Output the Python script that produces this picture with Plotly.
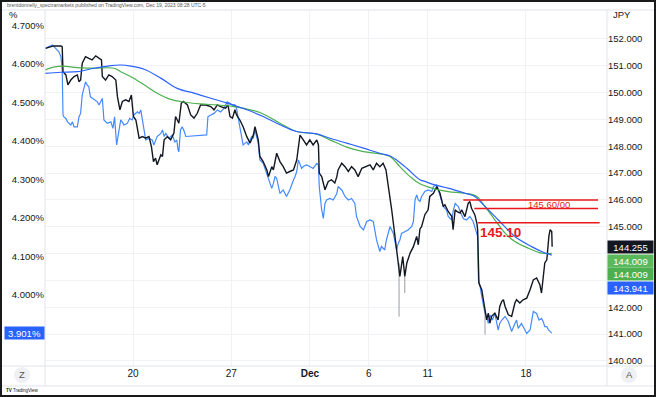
import plotly.graph_objects as go

# ---------------- DATA ----------------
usdjpy_time = [
    "2023-11-13 13:00", "2023-11-13 19:00", "2023-11-13 23:00", "2023-11-14 08:00", "2023-11-14 09:30",
    "2023-11-14 10:30", "2023-11-14 14:00", "2023-11-14 16:30", "2023-11-14 20:00", "2023-11-15 00:00",
    "2023-11-15 04:00", "2023-11-15 06:00", "2023-11-15 08:00", "2023-11-15 10:00", "2023-11-15 14:00",
    "2023-11-15 18:00", "2023-11-15 22:00", "2023-11-16 02:30", "2023-11-16 06:30", "2023-11-16 09:30",
    "2023-11-16 10:30", "2023-11-16 14:30", "2023-11-16 18:30", "2023-11-16 22:30", "2023-11-17 03:00",
    "2023-11-17 05:00", "2023-11-17 08:00", "2023-11-17 11:00", "2023-11-17 15:00", "2023-11-17 19:00",
    "2023-11-17 22:00", "2023-11-20 00:30", "2023-11-20 03:30", "2023-11-20 05:30", "2023-11-20 07:30",
    "2023-11-20 11:30", "2023-11-20 15:30", "2023-11-20 19:30", "2023-11-20 22:30", "2023-11-21 01:00",
    "2023-11-21 03:30", "2023-11-21 05:30", "2023-11-21 10:00", "2023-11-21 12:00", "2023-11-21 14:00",
    "2023-11-21 18:00", "2023-11-21 22:00", "2023-11-22 02:00", "2023-11-22 04:00", "2023-11-22 08:00",
    "2023-11-22 11:00", "2023-11-22 13:30", "2023-11-22 18:30", "2023-11-22 22:30", "2023-11-23 02:30",
    "2023-11-23 06:30", "2023-11-23 10:30", "2023-11-23 17:00", "2023-11-23 23:00", "2023-11-24 03:00",
    "2023-11-24 07:00", "2023-11-24 11:00", "2023-11-24 17:00", "2023-11-24 20:00", "2023-11-24 22:30",
    "2023-11-27 01:30", "2023-11-27 04:30", "2023-11-27 06:30", "2023-11-27 10:30", "2023-11-27 14:30",
    "2023-11-27 19:00", "2023-11-27 23:00", "2023-11-28 03:00", "2023-11-28 05:00", "2023-11-28 09:00",
    "2023-11-28 11:00", "2023-11-28 15:00", "2023-11-28 19:30", "2023-11-28 21:30", "2023-11-29 01:30",
    "2023-11-29 03:30", "2023-11-29 07:30", "2023-11-29 11:30", "2023-11-29 15:30", "2023-11-29 19:30",
    "2023-11-29 23:30", "2023-11-30 04:00", "2023-11-30 08:00", "2023-11-30 10:00", "2023-11-30 12:00",
    "2023-11-30 16:00", "2023-11-30 20:00", "2023-12-01 00:00", "2023-12-01 04:00", "2023-12-01 08:30",
    "2023-12-01 10:30", "2023-12-01 11:30", "2023-12-01 14:30", "2023-12-01 18:30", "2023-12-01 22:30",
    "2023-12-04 02:30", "2023-12-04 06:30", "2023-12-04 09:00", "2023-12-04 10:30", "2023-12-04 15:00",
    "2023-12-04 19:00", "2023-12-04 23:00", "2023-12-05 03:00", "2023-12-05 07:00", "2023-12-05 11:00",
    "2023-12-05 15:30", "2023-12-05 19:30", "2023-12-06 01:30", "2023-12-06 05:30", "2023-12-06 09:30",
    "2023-12-06 13:30", "2023-12-06 17:30", "2023-12-06 21:00", "2023-12-06 23:30", "2023-12-07 04:00",
    "2023-12-07 06:00", "2023-12-07 08:00", "2023-12-07 10:00", "2023-12-07 12:00", "2023-12-07 14:00",
    "2023-12-07 17:30", "2023-12-07 20:00", "2023-12-07 22:30", "2023-12-08 02:30", "2023-12-08 06:30",
    "2023-12-08 10:30", "2023-12-08 12:30", "2023-12-08 14:30", "2023-12-08 16:30", "2023-12-08 20:30",
    "2023-12-11 00:30", "2023-12-11 02:30", "2023-12-11 07:00", "2023-12-11 09:00", "2023-12-11 11:00",
    "2023-12-11 13:00", "2023-12-11 15:00", "2023-12-11 19:00", "2023-12-11 21:00", "2023-12-12 01:00",
    "2023-12-12 05:30", "2023-12-12 07:00", "2023-12-12 09:30", "2023-12-12 11:30", "2023-12-12 15:30",
    "2023-12-12 17:30", "2023-12-12 21:30", "2023-12-13 01:30", "2023-12-13 03:30", "2023-12-13 05:30",
    "2023-12-13 09:30", "2023-12-13 12:00", "2023-12-13 13:00", "2023-12-13 14:30", "2023-12-13 18:00",
    "2023-12-13 20:00", "2023-12-13 22:00", "2023-12-14 00:00", "2023-12-14 02:00", "2023-12-14 04:00",
    "2023-12-14 06:00", "2023-12-14 10:00", "2023-12-14 14:00", "2023-12-14 16:00", "2023-12-14 18:30",
    "2023-12-14 20:30", "2023-12-14 22:30", "2023-12-15 02:30", "2023-12-15 06:30", "2023-12-15 10:30",
    "2023-12-15 12:30", "2023-12-15 16:30", "2023-12-15 20:30", "2023-12-18 01:00", "2023-12-18 05:00",
    "2023-12-18 09:00", "2023-12-18 13:00", "2023-12-18 17:00", "2023-12-18 19:00", "2023-12-18 21:00",
    "2023-12-18 23:00", "2023-12-19 01:30", "2023-12-19 02:30", "2023-12-19 04:00", "2023-12-19 05:30",
    "2023-12-19 07:30", "2023-12-19 08:00",
]
usdjpy = [
    151.65, 151.71, 151.74, 151.74, 151.71,
    150.78, 150.66, 150.29, 150.47, 150.60,
    150.66, 150.41, 150.47, 151.10, 151.34,
    151.28, 151.22, 151.37, 151.28, 151.22,
    150.60, 150.47, 150.66, 150.60, 150.47,
    149.85, 149.36, 149.67, 149.73, 149.67,
    149.91, 149.11, 148.98, 148.61, 148.30,
    148.36, 148.30, 148.36, 147.99, 147.43,
    147.56, 147.31, 147.68, 147.62, 148.24,
    148.36, 148.24, 148.49, 149.11, 148.86,
    149.61, 149.67, 149.54, 149.17, 149.05,
    149.23, 149.54, 149.54, 149.48, 149.36,
    149.54, 149.48, 149.42, 149.54, 149.11,
    149.05, 149.36, 149.17, 148.98, 148.73,
    148.36, 148.12, 148.42, 148.73, 148.24,
    147.62, 147.43, 147.12, 146.87, 147.24,
    147.12, 147.74, 147.43, 147.24, 147.00,
    147.06, 147.12, 147.49, 147.87, 148.42,
    148.24, 148.05, 148.24, 148.05, 148.24,
    148.05, 147.00, 146.87, 146.38, 146.69,
    146.75, 146.63, 146.87, 147.12, 147.37,
    147.24, 147.06, 147.24, 147.12, 146.87,
    147.18, 147.24, 147.31, 147.12, 147.37,
    147.24, 147.37, 147.12, 146.63, 145.63,
    145.14, 144.64, 144.14, 143.65, 143.15,
    143.89, 143.15, 143.65, 144.02, 144.26,
    144.64, 144.33, 144.92, 145.00, 145.45,
    145.63, 146.13, 146.25, 146.38, 146.50,
    146.38, 146.25, 145.75, 145.82, 145.57,
    145.38, 144.89, 145.63, 145.57, 145.51,
    145.63, 145.38, 145.88, 145.94, 145.69,
    145.45, 145.14, 144.89, 142.90, 142.65,
    142.28, 141.91, 141.53, 141.78, 141.41,
    141.66, 141.78, 141.53, 142.03, 142.22,
    142.28, 142.03, 141.72, 141.66, 142.16,
    142.28, 142.16, 142.28, 142.34, 142.65,
    143.02, 143.09, 142.84, 142.53, 143.15,
    143.65, 143.77, 144.14, 144.64, 144.89,
    144.82, 144.255,
]

# long lower wicks of the price bars
wick_time = ["2023-12-07 13:00", "2023-12-07 20:00", "2023-12-13 22:00"]
wick_high = [143.65, 143.15, 141.91]
wick_low = [141.65, 142.53, 140.98]

us10y_time = [
    "2023-11-13 13:00", "2023-11-13 17:30", "2023-11-13 21:30", "2023-11-14 01:30", "2023-11-14 05:30",
    "2023-11-14 08:00", "2023-11-14 09:30", "2023-11-14 10:30", "2023-11-14 11:30", "2023-11-14 14:00",
    "2023-11-14 16:00", "2023-11-14 20:00", "2023-11-14 22:00", "2023-11-15 00:00", "2023-11-15 04:00",
    "2023-11-15 06:00", "2023-11-15 08:00", "2023-11-15 10:00", "2023-11-15 12:00", "2023-11-15 14:00",
    "2023-11-15 16:00", "2023-11-15 18:00", "2023-11-15 20:00", "2023-11-16 00:30", "2023-11-16 04:30",
    "2023-11-16 06:30", "2023-11-16 10:30", "2023-11-16 12:30", "2023-11-16 16:30", "2023-11-16 21:00",
    "2023-11-16 23:30", "2023-11-17 01:30", "2023-11-17 04:00", "2023-11-17 07:00", "2023-11-17 09:00",
    "2023-11-17 13:00", "2023-11-17 17:00", "2023-11-17 20:00", "2023-11-17 23:00", "2023-11-20 01:00",
    "2023-11-20 05:30", "2023-11-20 07:30", "2023-11-20 09:30", "2023-11-20 11:30", "2023-11-20 15:30",
    "2023-11-20 19:30", "2023-11-20 23:30", "2023-11-21 01:30", "2023-11-21 05:30", "2023-11-21 10:00",
    "2023-11-21 12:00", "2023-11-21 14:00", "2023-11-21 16:00", "2023-11-21 20:00", "2023-11-22 00:00",
    "2023-11-22 03:00", "2023-11-22 05:30", "2023-11-22 07:00", "2023-11-22 08:00", "2023-11-22 10:00",
    "2023-11-22 12:00", "2023-11-22 14:00", "2023-11-22 16:30", "2023-11-23 18:00", "2023-11-23 19:30",
    "2023-11-23 23:00", "2023-11-24 03:00", "2023-11-24 07:00", "2023-11-24 11:00", "2023-11-24 15:00",
    "2023-11-24 19:00", "2023-11-24 23:00", "2023-11-27 01:00", "2023-11-27 04:30", "2023-11-27 06:30",
    "2023-11-27 10:30", "2023-11-27 14:30", "2023-11-27 19:00", "2023-11-27 21:00", "2023-11-27 23:00",
    "2023-11-28 01:00", "2023-11-28 03:00", "2023-11-28 05:00", "2023-11-28 09:00", "2023-11-28 11:00",
    "2023-11-28 15:00", "2023-11-28 19:30", "2023-11-28 21:30", "2023-11-29 01:30", "2023-11-29 03:30",
    "2023-11-29 05:30", "2023-11-29 07:30", "2023-11-29 09:30", "2023-11-29 11:30", "2023-11-29 15:30",
    "2023-11-29 19:30", "2023-11-29 23:30", "2023-11-30 02:00", "2023-11-30 04:00", "2023-11-30 06:00",
    "2023-11-30 08:00", "2023-11-30 10:00", "2023-11-30 12:00", "2023-11-30 14:00", "2023-11-30 16:00",
    "2023-11-30 20:00", "2023-12-01 00:00", "2023-12-01 04:00", "2023-12-01 08:30", "2023-12-01 10:30",
    "2023-12-01 11:30", "2023-12-01 14:30", "2023-12-01 16:30", "2023-12-01 18:30", "2023-12-01 20:30",
    "2023-12-04 00:30", "2023-12-04 04:30", "2023-12-04 09:00", "2023-12-04 10:30", "2023-12-04 15:00",
    "2023-12-04 19:00", "2023-12-04 23:00", "2023-12-05 03:00", "2023-12-05 07:00", "2023-12-05 09:00",
    "2023-12-05 13:30", "2023-12-05 17:30", "2023-12-05 21:30", "2023-12-06 01:30", "2023-12-06 05:30",
    "2023-12-06 09:30", "2023-12-06 13:30", "2023-12-06 15:30", "2023-12-06 19:30", "2023-12-06 21:30",
    "2023-12-07 02:00", "2023-12-07 06:00", "2023-12-07 08:00", "2023-12-07 10:00", "2023-12-07 12:00",
    "2023-12-07 14:00", "2023-12-07 16:00", "2023-12-07 20:00", "2023-12-08 00:00", "2023-12-08 04:30",
    "2023-12-08 06:30", "2023-12-08 08:30", "2023-12-08 10:30", "2023-12-08 12:30", "2023-12-08 14:30",
    "2023-12-08 16:30", "2023-12-08 20:30", "2023-12-11 00:30", "2023-12-11 05:00", "2023-12-11 07:00",
    "2023-12-11 11:00", "2023-12-11 13:00", "2023-12-11 15:00", "2023-12-11 19:00", "2023-12-11 23:00",
    "2023-12-12 01:00", "2023-12-12 05:30", "2023-12-12 07:00", "2023-12-12 09:30", "2023-12-12 13:30",
    "2023-12-12 15:30", "2023-12-12 19:30", "2023-12-12 23:30", "2023-12-13 03:30", "2023-12-13 07:30",
    "2023-12-13 12:00", "2023-12-13 13:00", "2023-12-13 14:00", "2023-12-13 16:00", "2023-12-13 18:00",
    "2023-12-13 20:00", "2023-12-13 22:00", "2023-12-14 00:00", "2023-12-14 02:00", "2023-12-14 04:00",
    "2023-12-14 07:00", "2023-12-14 10:00", "2023-12-14 12:00", "2023-12-14 14:00", "2023-12-14 16:00",
    "2023-12-14 18:30", "2023-12-14 22:30", "2023-12-15 02:30", "2023-12-15 04:30", "2023-12-15 06:30",
    "2023-12-15 10:30", "2023-12-15 12:30", "2023-12-15 14:30", "2023-12-15 18:30", "2023-12-15 20:30",
    "2023-12-18 01:00", "2023-12-18 05:00", "2023-12-18 07:00", "2023-12-18 09:00", "2023-12-18 13:00",
    "2023-12-18 16:00", "2023-12-18 19:00", "2023-12-18 21:00", "2023-12-18 23:00", "2023-12-19 01:30",
    "2023-12-19 03:30", "2023-12-19 05:30", "2023-12-19 07:30",
]
us10y = [
    4.641, 4.645, 4.650, 4.641, 4.632,
    4.619, 4.585, 4.468, 4.463, 4.459,
    4.450, 4.442, 4.450, 4.437, 4.437,
    4.463, 4.472, 4.520, 4.541, 4.554,
    4.546, 4.541, 4.515, 4.507, 4.502,
    4.494, 4.511, 4.455, 4.446, 4.450,
    4.433, 4.463, 4.390, 4.429, 4.455,
    4.442, 4.446, 4.459, 4.455, 4.468,
    4.476, 4.472, 4.481, 4.455, 4.403,
    4.407, 4.403, 4.390, 4.412, 4.420,
    4.429, 4.412, 4.420, 4.407, 4.416,
    4.398, 4.403, 4.377, 4.372, 4.429,
    4.437, 4.429, 4.412, 4.416, 4.463,
    4.468, 4.472, 4.481, 4.476, 4.485,
    4.502, 4.498, 4.494, 4.494, 4.485,
    4.437, 4.390, 4.398, 4.390, 4.403,
    4.412, 4.407, 4.429, 4.394, 4.351,
    4.342, 4.316, 4.299, 4.277, 4.290,
    4.308, 4.303, 4.282, 4.264, 4.273,
    4.256, 4.273, 4.290, 4.299, 4.308,
    4.321, 4.351, 4.342, 4.329, 4.334,
    4.338, 4.334, 4.329, 4.342, 4.338,
    4.282, 4.221, 4.199, 4.238, 4.247,
    4.251, 4.247, 4.264, 4.282, 4.273,
    4.256, 4.247, 4.251, 4.238, 4.204,
    4.178, 4.169, 4.191, 4.195, 4.191,
    4.143, 4.113, 4.126, 4.117, 4.143,
    4.178, 4.160, 4.139, 4.117, 4.134,
    4.143, 4.160, 4.165, 4.169, 4.178,
    4.191, 4.247, 4.260, 4.247, 4.243,
    4.256, 4.269, 4.273, 4.269, 4.282,
    4.286, 4.273, 4.256, 4.230, 4.221,
    4.204, 4.195, 4.217, 4.238, 4.230,
    4.217, 4.199, 4.195, 4.204, 4.191,
    4.160, 4.152, 4.039, 4.022, 3.996,
    3.978, 3.952, 3.944, 3.926, 3.948,
    3.935, 3.952, 3.926, 3.909, 3.926,
    3.935, 3.944, 3.931, 3.918, 3.905,
    3.926, 3.935, 3.913, 3.926, 3.918,
    3.900, 3.909, 3.931, 3.957, 3.952,
    3.935, 3.939, 3.931, 3.918, 3.918,
    3.909, 3.905, 3.901,
]

ma_blue_time = [
    "2023-11-13 12:30", "2023-11-14 08:00", "2023-11-15 04:00", "2023-11-16 00:30", "2023-11-16 21:00",
    "2023-11-17 09:00", "2023-11-17 21:00", "2023-11-20 13:30", "2023-11-21 10:00", "2023-11-22 06:00",
    "2023-11-23 02:30", "2023-11-23 23:00", "2023-11-24 19:00", "2023-11-27 19:00", "2023-11-28 15:00",
    "2023-11-29 11:30", "2023-11-30 08:00", "2023-12-01 08:30", "2023-12-04 00:30", "2023-12-04 21:00",
    "2023-12-05 17:30", "2023-12-06 13:30", "2023-12-07 02:00", "2023-12-07 10:00", "2023-12-07 22:30",
    "2023-12-08 14:30", "2023-12-08 20:30", "2023-12-11 09:00", "2023-12-12 01:00", "2023-12-12 21:30",
    "2023-12-13 09:30", "2023-12-13 18:00", "2023-12-14 14:00", "2023-12-15 10:30", "2023-12-18 07:00",
    "2023-12-18 19:00", "2023-12-19 07:30",
]
ma_blue = [
    150.72, 150.76, 150.78, 150.91, 151.01,
    151.03, 150.99, 150.87, 150.54, 150.16,
    149.98, 149.79, 149.61, 149.36, 149.11,
    148.80, 148.55, 148.46, 148.30, 148.12,
    147.93, 147.74, 147.64, 147.49, 147.18,
    146.75, 146.69, 146.56, 146.44, 146.25,
    146.13, 145.88, 145.26, 144.64, 144.26,
    144.08, 143.941,
]

ma_green_time = [
    "2023-11-13 12:30", "2023-11-13 23:00", "2023-11-14 09:30", "2023-11-15 04:00", "2023-11-16 00:30",
    "2023-11-17 01:00", "2023-11-17 09:00", "2023-11-17 21:00", "2023-11-20 13:30", "2023-11-21 05:30",
    "2023-11-21 22:00", "2023-11-22 14:00", "2023-11-23 10:30", "2023-11-24 07:00", "2023-11-27 03:30",
    "2023-11-27 14:30", "2023-11-28 11:00", "2023-11-29 11:30", "2023-11-30 08:00", "2023-12-01 08:30",
    "2023-12-04 00:30", "2023-12-04 21:00", "2023-12-05 17:30", "2023-12-06 13:30", "2023-12-07 02:00",
    "2023-12-07 14:00", "2023-12-08 02:30", "2023-12-08 14:30", "2023-12-11 05:00", "2023-12-12 01:00",
    "2023-12-12 21:30", "2023-12-13 12:00", "2023-12-13 22:00", "2023-12-14 10:00", "2023-12-14 22:30",
    "2023-12-15 10:30", "2023-12-18 03:00", "2023-12-18 19:00", "2023-12-19 07:30",
]
ma_green = [
    150.85, 150.95, 150.99, 150.93, 150.91,
    150.91, 150.78, 150.60, 150.29, 149.98,
    149.75, 149.65, 149.58, 149.54, 149.48,
    149.42, 149.26, 148.86, 148.55, 148.45,
    148.24, 147.97, 147.80, 147.72, 147.62,
    147.24, 146.87, 146.60, 146.44, 146.31,
    146.25, 146.13, 145.75, 145.26, 144.76,
    144.45, 144.20, 144.02, 144.009,
]

# horizontal levels drawn by the author
level_value = [146.00, 145.68, 145.15]
level_start = ["2023-12-12 19:30", "2023-12-13 09:00", "2023-12-13 13:30"]
level_end = ["2023-12-21 16:00", "2023-12-21 16:00", "2023-12-21 18:00"]

x_tick_dates = ["2023-11-20", "2023-11-27", "2023-12-01", "2023-12-06", "2023-12-11", "2023-12-18"]
x_tick_text = ["20", "27", "<b>Dec</b>", "6", "11", "18"]
jpy_ticks = [140, 141, 142, 143, 144, 145, 146, 147, 148, 149, 150, 151, 152]
pct_ticks = [4.0, 4.1, 4.2, 4.3, 4.4, 4.5, 4.6, 4.7]

# ---------------- LAYOUT GEOMETRY ----------------
W, H = 656, 397
ML, MR, MT, MB = 45, 49, 10, 31
PW, PH = W - ML - MR, H - MT - MB
JPY_RANGE = [139.81, 153.08]
PCT_RANGE = [3.8154, 4.7408]
X_RANGE = ["2023-11-13 12:30", "2023-12-22 03:00"]


def px_x(px):
    return (px - ML) / PW


def px_y(py):
    return (H - MB - py) / PH


def jpy_to_py(v):
    return MT + (JPY_RANGE[1] - v) / (JPY_RANGE[1] - JPY_RANGE[0]) * PH


FONT = "Liberation Sans, Arial, sans-serif"
INK = "#131722"
GRID = "#f0f2f6"
DIV = "#e0e3eb"
RED = "#e8191c"

fig = go.Figure()

fig.add_trace(go.Scatter(x=us10y_time, y=us10y, yaxis="y", mode="lines",
                         line=dict(color="#448aff", width=1.2)))

wx, wy = [], []
for t, hi, lo in zip(wick_time, wick_high, wick_low):
    wx += [t, t, None]
    wy += [hi, lo, None]
fig.add_trace(go.Scatter(x=wx, y=wy, yaxis="y2", mode="lines",
                         line=dict(color="#9a9da5", width=1)))

fig.add_trace(go.Scatter(x=usdjpy_time, y=usdjpy, yaxis="y2", mode="lines",
                         line=dict(color=INK, width=1.4)))

fig.add_trace(go.Scatter(x=ma_green_time, y=ma_green, yaxis="y2", mode="lines",
                         line=dict(color="#4caf50", width=1.2, shape="spline", smoothing=1.0)))
fig.add_trace(go.Scatter(x=ma_blue_time, y=ma_blue, yaxis="y2", mode="lines",
                         line=dict(color="#2962ff", width=1.2, shape="spline", smoothing=1.0)))

for v, s, e in zip(level_value, level_start, level_end):
    fig.add_trace(go.Scatter(x=[s, e], y=[v, v], yaxis="y2", mode="lines",
                             line=dict(color=RED, width=1.5)))

annotations = [
    dict(x="2023-12-19 04:00", y=(level_value[0] + level_value[1]) / 2, xref="x", yref="y2",
         text="145.60/00", showarrow=False, font=dict(family=FONT, size=9.5, color=RED),
         xanchor="center", yanchor="middle"),
    dict(x=level_start[2], y=144.77, xref="x", yref="y2", text="<b>145.10</b>", showarrow=False,
         font=dict(family=FONT, size=13.5, color=RED), xanchor="left", yanchor="middle"),
    dict(x=px_x(5), y=px_y(5), xref="paper", yref="paper", showarrow=False, xanchor="left",
         yanchor="middle",
         text="brentdonnelly_spectramarkets published on TradingView.com, Dec 19, 2023 08:28 UTC-5",
         font=dict(family=FONT, size=5, color="#555")),
    dict(x=px_x(7), y=px_y(15), xref="paper", yref="paper", showarrow=False, xanchor="left",
         yanchor="middle", text="%", font=dict(family=FONT, size=9.5, color=INK)),
    dict(x=px_x(611), y=px_y(15), xref="paper", yref="paper", showarrow=False, xanchor="left",
         yanchor="middle", text="JPY", font=dict(family=FONT, size=9.5, color=INK)),
    dict(x=px_x(22), y=px_y(375), xref="paper", yref="paper", showarrow=False, text="Z",
         xanchor="center", yanchor="middle", font=dict(family=FONT, size=9.5, color="#555")),
    dict(x=px_x(629), y=px_y(375), xref="paper", yref="paper", showarrow=False, text="A",
         xanchor="center", yanchor="middle", font=dict(family=FONT, size=9.5, color="#555")),
    dict(x=px_x(4), y=px_y(390), xref="paper", yref="paper", showarrow=False, xanchor="left",
         yanchor="middle", text="<b>TV</b> TradingView", font=dict(family=FONT, size=4.5, color=INK)),
]

# right-scale price labels, stacked so they don't overlap
right_labels = [(usdjpy[-1], "#131722"), (ma_green[-1], "#5cb85c"), (ma_green[-1], "#4caf50"),
                (ma_blue[-1], "#2962ff")]
label_py = []
prev = None
for v, col in right_labels:
    py = jpy_to_py(v)
    if prev is not None:
        py = max(py, prev + 13.8)
    prev = py
    label_py.append(py)
    annotations.append(dict(x=1, y=px_y(py), xref="paper", yref="paper", xanchor="left",
                            yanchor="middle", showarrow=False, text=f"{v:.3f}", bgcolor=col,
                            width=45, height=12, align="center", borderpad=0,
                            font=dict(family=FONT, size=9.5, color="white")))

# like TradingView, hide scale labels that sit under a price label (grid lines stay)
jpy_text = []
for t in jpy_ticks:
    tpy = jpy_to_py(t)
    hidden = any(abs(tpy - lp) < 12 for lp in label_py)
    jpy_text.append("" if hidden else f"{t:.3f}")

annotations.append(dict(x=0, y=us10y[-1], xref="paper", yref="y", xanchor="right", yanchor="middle",
                        showarrow=False, text=f"{us10y[-1]:.3f}%", bgcolor="#2962ff",
                        width=39, height=12, align="center", borderpad=0,
                        font=dict(family=FONT, size=9.5, color="white")))

shapes = [
    # dividers
    dict(type="line", xref="paper", yref="paper", x0=px_x(ML), x1=px_x(ML), y0=px_y(MT), y1=px_y(386),
         line=dict(color=DIV, width=1)),
    dict(type="line", xref="paper", yref="paper", x0=px_x(W - MR), x1=px_x(W - MR), y0=px_y(MT),
         y1=px_y(386), line=dict(color=DIV, width=1)),
    dict(type="line", xref="paper", yref="paper", x0=px_x(1), x1=px_x(W - 1), y0=px_y(H - MB),
         y1=px_y(H - MB), line=dict(color=DIV, width=1)),
    dict(type="line", xref="paper", yref="paper", x0=px_x(1), x1=px_x(W - 1), y0=px_y(386),
         y1=px_y(386), line=dict(color=DIV, width=1)),
    dict(type="line", xref="paper", yref="paper", x0=px_x(1), x1=px_x(W - 1), y0=px_y(MT),
         y1=px_y(MT), line=dict(color=DIV, width=1)),
    # Z / A buttons
    dict(type="circle", xref="paper", yref="paper", x0=px_x(14), x1=px_x(30), y0=px_y(383),
         y1=px_y(367), fillcolor="#eef0f4", line=dict(width=0), layer="below"),
    dict(type="circle", xref="paper", yref="paper", x0=px_x(621), x1=px_x(637), y0=px_y(383),
         y1=px_y(367), fillcolor="#eef0f4", line=dict(width=0), layer="below"),
    # outer frame
    dict(type="rect", xref="paper", yref="paper", x0=px_x(1), x1=px_x(W - 1), y0=px_y(H - 1),
         y1=px_y(1), line=dict(color="#1a1a1a", width=2)),
]

fig.update_layout(
    width=W, height=H,
    margin=dict(l=ML, r=MR, t=MT, b=MB, pad=0, autoexpand=False),
    paper_bgcolor="white", plot_bgcolor="white",
    showlegend=False, hovermode=False,
    font=dict(family=FONT, size=9.5, color=INK),
    xaxis=dict(type="date", range=X_RANGE, rangebreaks=[dict(bounds=["sat", "mon"])],
               tickvals=x_tick_dates, ticktext=x_tick_text, showgrid=True, gridcolor=GRID,
               gridwidth=1, zeroline=False, showline=False, ticks="", tickfont=dict(size=10),
               automargin=False),
    yaxis=dict(range=PCT_RANGE, tickvals=pct_ticks, ticktext=[f"{v:.3f}%" for v in pct_ticks],
               showgrid=False, zeroline=False, showline=False, ticks="", side="left",
               automargin=False),
    yaxis2=dict(range=JPY_RANGE, tickvals=jpy_ticks, ticktext=jpy_text,
                overlaying="y", side="right", showgrid=True, gridcolor=GRID, gridwidth=1,
                zeroline=False, showline=False, ticks="", automargin=False),
    annotations=annotations,
    shapes=shapes,
)

fig.write_html(
    "out.html",
    config={"displayModeBar": False, "staticPlot": True},
    post_script="document.body.style.margin='0';document.body.style.padding='0';"
                "document.body.style.overflow='hidden';",
)
